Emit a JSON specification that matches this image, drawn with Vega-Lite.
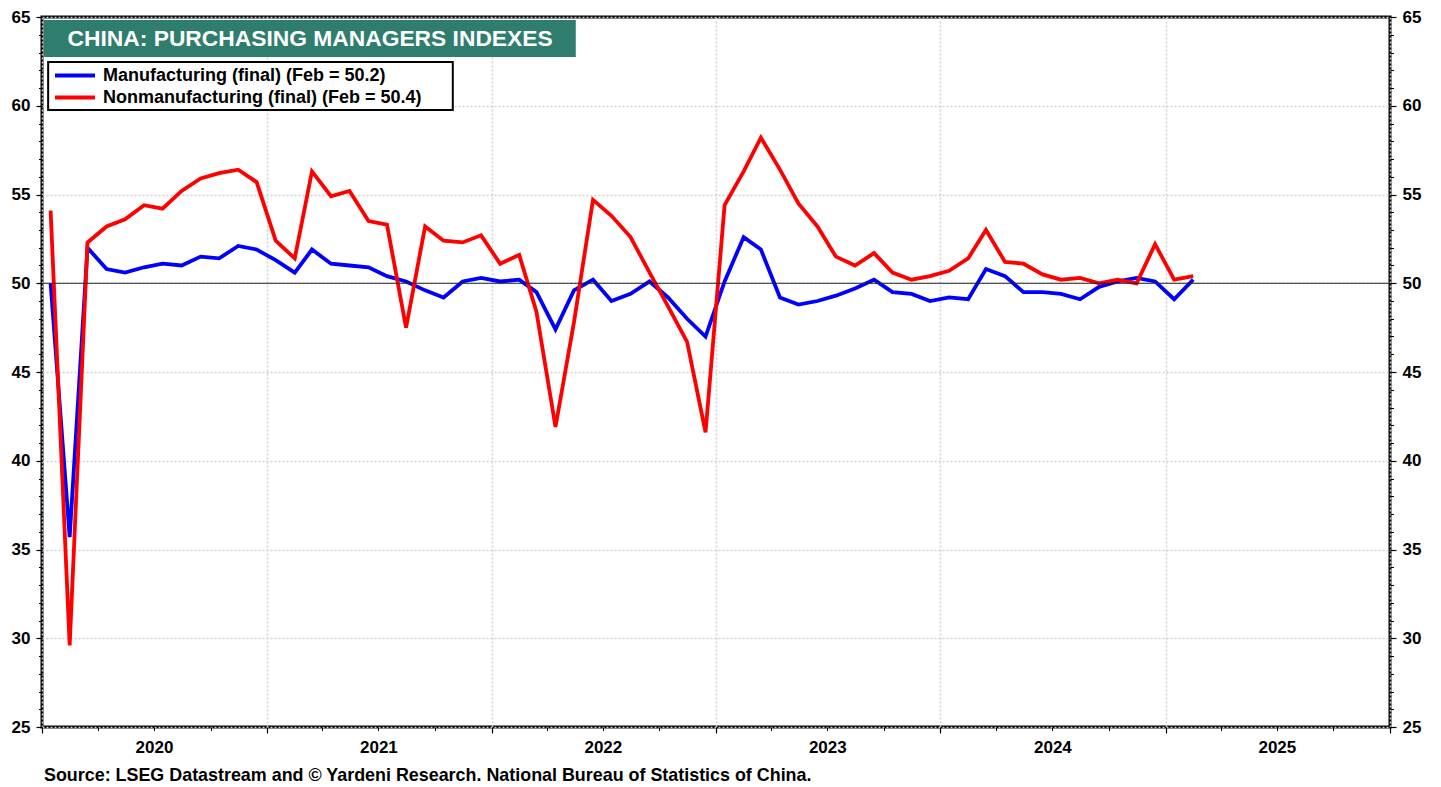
{
  "$schema": "https://vega.github.io/schema/vega-lite/v6.json",
  "width": 1348,
  "height": 710,
  "autosize": {"type": "none"},
  "padding": {"left": 42, "top": 17, "right": 51, "bottom": 60},
  "background": "white",
  "title": {
    "text": "Source: LSEG Datastream and © Yardeni Research. National Bureau of Statistics of China.",
    "orient": "bottom",
    "anchor": "start",
    "frame": "group",
    "offset": 12,
    "dx": 2,
    "font": "Liberation Sans",
    "fontWeight": "bold",
    "fontSize": 17.9,
    "color": "black"
  },
  "datasets": {
    "pmi": [
      {"date": "2020-01-15", "Manufacturing": 50.0, "Nonmanufacturing": 54.1},
      {"date": "2020-02-15", "Manufacturing": 35.7, "Nonmanufacturing": 29.6},
      {"date": "2020-03-15", "Manufacturing": 52.0, "Nonmanufacturing": 52.3},
      {"date": "2020-04-15", "Manufacturing": 50.8, "Nonmanufacturing": 53.2},
      {"date": "2020-05-15", "Manufacturing": 50.6, "Nonmanufacturing": 53.6},
      {"date": "2020-06-15", "Manufacturing": 50.9, "Nonmanufacturing": 54.4},
      {"date": "2020-07-15", "Manufacturing": 51.1, "Nonmanufacturing": 54.2},
      {"date": "2020-08-15", "Manufacturing": 51.0, "Nonmanufacturing": 55.2},
      {"date": "2020-09-15", "Manufacturing": 51.5, "Nonmanufacturing": 55.9},
      {"date": "2020-10-15", "Manufacturing": 51.4, "Nonmanufacturing": 56.2},
      {"date": "2020-11-15", "Manufacturing": 52.1, "Nonmanufacturing": 56.4},
      {"date": "2020-12-15", "Manufacturing": 51.9, "Nonmanufacturing": 55.7},
      {"date": "2021-01-15", "Manufacturing": 51.3, "Nonmanufacturing": 52.4},
      {"date": "2021-02-15", "Manufacturing": 50.6, "Nonmanufacturing": 51.4},
      {"date": "2021-03-15", "Manufacturing": 51.9, "Nonmanufacturing": 56.3},
      {"date": "2021-04-15", "Manufacturing": 51.1, "Nonmanufacturing": 54.9},
      {"date": "2021-05-15", "Manufacturing": 51.0, "Nonmanufacturing": 55.2},
      {"date": "2021-06-15", "Manufacturing": 50.9, "Nonmanufacturing": 53.5},
      {"date": "2021-07-15", "Manufacturing": 50.4, "Nonmanufacturing": 53.3},
      {"date": "2021-08-15", "Manufacturing": 50.1, "Nonmanufacturing": 47.5},
      {"date": "2021-09-15", "Manufacturing": 49.6, "Nonmanufacturing": 53.2},
      {"date": "2021-10-15", "Manufacturing": 49.2, "Nonmanufacturing": 52.4},
      {"date": "2021-11-15", "Manufacturing": 50.1, "Nonmanufacturing": 52.3},
      {"date": "2021-12-15", "Manufacturing": 50.3, "Nonmanufacturing": 52.7},
      {"date": "2022-01-15", "Manufacturing": 50.1, "Nonmanufacturing": 51.1},
      {"date": "2022-02-15", "Manufacturing": 50.2, "Nonmanufacturing": 51.6},
      {"date": "2022-03-15", "Manufacturing": 49.5, "Nonmanufacturing": 48.4},
      {"date": "2022-04-15", "Manufacturing": 47.4, "Nonmanufacturing": 41.9},
      {"date": "2022-05-15", "Manufacturing": 49.6, "Nonmanufacturing": 47.8},
      {"date": "2022-06-15", "Manufacturing": 50.2, "Nonmanufacturing": 54.7},
      {"date": "2022-07-15", "Manufacturing": 49.0, "Nonmanufacturing": 53.8},
      {"date": "2022-08-15", "Manufacturing": 49.4, "Nonmanufacturing": 52.6},
      {"date": "2022-09-15", "Manufacturing": 50.1, "Nonmanufacturing": 50.6},
      {"date": "2022-10-15", "Manufacturing": 49.2, "Nonmanufacturing": 48.7},
      {"date": "2022-11-15", "Manufacturing": 48.0, "Nonmanufacturing": 46.7},
      {"date": "2022-12-15", "Manufacturing": 47.0, "Nonmanufacturing": 41.6},
      {"date": "2023-01-15", "Manufacturing": 50.1, "Nonmanufacturing": 54.4},
      {"date": "2023-02-15", "Manufacturing": 52.6, "Nonmanufacturing": 56.3},
      {"date": "2023-03-15", "Manufacturing": 51.9, "Nonmanufacturing": 58.2},
      {"date": "2023-04-15", "Manufacturing": 49.2, "Nonmanufacturing": 56.4},
      {"date": "2023-05-15", "Manufacturing": 48.8, "Nonmanufacturing": 54.5},
      {"date": "2023-06-15", "Manufacturing": 49.0, "Nonmanufacturing": 53.2},
      {"date": "2023-07-15", "Manufacturing": 49.3, "Nonmanufacturing": 51.5},
      {"date": "2023-08-15", "Manufacturing": 49.7, "Nonmanufacturing": 51.0},
      {"date": "2023-09-15", "Manufacturing": 50.2, "Nonmanufacturing": 51.7},
      {"date": "2023-10-15", "Manufacturing": 49.5, "Nonmanufacturing": 50.6},
      {"date": "2023-11-15", "Manufacturing": 49.4, "Nonmanufacturing": 50.2},
      {"date": "2023-12-15", "Manufacturing": 49.0, "Nonmanufacturing": 50.4},
      {"date": "2024-01-15", "Manufacturing": 49.2, "Nonmanufacturing": 50.7},
      {"date": "2024-02-15", "Manufacturing": 49.1, "Nonmanufacturing": 51.4},
      {"date": "2024-03-15", "Manufacturing": 50.8, "Nonmanufacturing": 53.0},
      {"date": "2024-04-15", "Manufacturing": 50.4, "Nonmanufacturing": 51.2},
      {"date": "2024-05-15", "Manufacturing": 49.5, "Nonmanufacturing": 51.1},
      {"date": "2024-06-15", "Manufacturing": 49.5, "Nonmanufacturing": 50.5},
      {"date": "2024-07-15", "Manufacturing": 49.4, "Nonmanufacturing": 50.2},
      {"date": "2024-08-15", "Manufacturing": 49.1, "Nonmanufacturing": 50.3},
      {"date": "2024-09-15", "Manufacturing": 49.8, "Nonmanufacturing": 50.0},
      {"date": "2024-10-15", "Manufacturing": 50.1, "Nonmanufacturing": 50.2},
      {"date": "2024-11-15", "Manufacturing": 50.3, "Nonmanufacturing": 50.0},
      {"date": "2024-12-15", "Manufacturing": 50.1, "Nonmanufacturing": 52.2},
      {"date": "2025-01-15", "Manufacturing": 49.1, "Nonmanufacturing": 50.2},
      {"date": "2025-02-15", "Manufacturing": 50.2, "Nonmanufacturing": 50.4}
    ]
  },
  "resolve": {
    "scale": {"x": "shared", "y": "shared"},
    "axis": {"x": "independent", "y": "independent"}
  },
  "layer": [
    {
      "data": {"values": [{}]},
      "mark": {"type": "point", "opacity": 0},
      "encoding": {
        "x": {
          "datum": {"year": 2020, "month": 6, "date": 1},
          "type": "temporal",
          "scale": {"domain": [{"year": 2020, "month": 1, "date": 1}, {"year": 2026, "month": 1, "date": 1}]},
          "axis": {
            "orient": "bottom",
            "values": [
              {"year": 2020, "month": 1, "date": 1}, {"year": 2021, "month": 1, "date": 1},
              {"year": 2022, "month": 1, "date": 1}, {"year": 2023, "month": 1, "date": 1},
              {"year": 2024, "month": 1, "date": 1}, {"year": 2025, "month": 1, "date": 1},
              {"year": 2026, "month": 1, "date": 1}
            ],
            "labels": false,
            "tickSize": 6,
            "tickWidth": 1.2,
            "grid": true
          }
        },
        "y": {
          "datum": 50,
          "type": "quantitative",
          "scale": {"domain": [25, 65], "nice": false, "zero": false},
          "axis": {
            "orient": "left",
            "values": [25,26,27,28,29,30,31,32,33,34,35,36,37,38,39,40,41,42,43,44,45,46,47,48,49,50,51,52,53,54,55,56,57,58,59,60,61,62,63,64,65],
            "labels": false,
            "tickSize": 3.5,
            "grid": false
          }
        }
      }
    },
    {
      "data": {"values": [{}]},
      "mark": {"type": "point", "opacity": 0},
      "encoding": {
        "x": {
          "datum": {"year": 2020, "month": 6, "date": 1},
          "type": "temporal",
          "scale": {"domain": [{"year": 2020, "month": 1, "date": 1}, {"year": 2026, "month": 1, "date": 1}]},
          "axis": {
            "orient": "bottom",
            "values": [
              {"year": 2020, "month": 4, "date": 1}, {"year": 2020, "month": 7, "date": 1}, {"year": 2020, "month": 10, "date": 1},
              {"year": 2021, "month": 4, "date": 1}, {"year": 2021, "month": 7, "date": 1}, {"year": 2021, "month": 10, "date": 1},
              {"year": 2022, "month": 4, "date": 1}, {"year": 2022, "month": 7, "date": 1}, {"year": 2022, "month": 10, "date": 1},
              {"year": 2023, "month": 4, "date": 1}, {"year": 2023, "month": 7, "date": 1}, {"year": 2023, "month": 10, "date": 1},
              {"year": 2024, "month": 4, "date": 1}, {"year": 2024, "month": 7, "date": 1}, {"year": 2024, "month": 10, "date": 1},
              {"year": 2025, "month": 4, "date": 1}, {"year": 2025, "month": 7, "date": 1}, {"year": 2025, "month": 10, "date": 1}
            ],
            "labels": false,
            "tickSize": 3.5,
            "grid": false
          }
        },
        "y": {
          "datum": 50,
          "type": "quantitative",
          "scale": {"domain": [25, 65], "nice": false, "zero": false},
          "axis": {
            "orient": "right",
            "values": [25,26,27,28,29,30,31,32,33,34,35,36,37,38,39,40,41,42,43,44,45,46,47,48,49,50,51,52,53,54,55,56,57,58,59,60,61,62,63,64,65],
            "labels": false,
            "tickSize": 3.5,
            "grid": false
          }
        }
      }
    },
    {
      "data": {"values": [{}]},
      "mark": {"type": "rect", "fill": "white", "stroke": "black", "strokeWidth": 2},
      "encoding": {
        "x": {"datum": {"year": 2020, "month": 1, "date": 11}, "type": "temporal", "axis": null},
        "x2": {"datum": {"year": 2021, "month": 10, "date": 30}},
        "y": {"datum": 62.465, "type": "quantitative", "axis": null},
        "y2": {"datum": 59.76}
      }
    },
    {
      "data": {"name": "pmi"},
      "transform": [{"fold": ["Manufacturing", "Nonmanufacturing"], "as": ["series", "value"]}],
      "mark": {"type": "line", "strokeWidth": 3.8, "strokeJoin": "miter", "strokeCap": "butt"},
      "encoding": {
        "x": {
          "field": "date",
          "type": "temporal",
          "scale": {"domain": [{"year": 2020, "month": 1, "date": 1}, {"year": 2026, "month": 1, "date": 1}]},
          "axis": {
            "orient": "bottom",
            "values": [
              {"year": 2020, "month": 7, "date": 1}, {"year": 2021, "month": 7, "date": 1},
              {"year": 2022, "month": 7, "date": 1}, {"year": 2023, "month": 7, "date": 1},
              {"year": 2024, "month": 7, "date": 1}, {"year": 2025, "month": 7, "date": 1}
            ],
            "format": "%Y",
            "ticks": false,
            "tickSize": 0,
            "labelPadding": 12,
            "grid": false
          }
        },
        "y": {
          "field": "value",
          "type": "quantitative",
          "scale": {"domain": [25, 65], "nice": false, "zero": false},
          "axis": {
            "orient": "left",
            "values": [25, 30, 35, 40, 45, 50, 55, 60, 65],
            "tickSize": 6,
            "tickWidth": 1.2,
            "labelPadding": 6,
            "grid": true
          }
        },
        "color": {
          "field": "series",
          "type": "nominal",
          "scale": {"domain": ["Manufacturing", "Nonmanufacturing"], "range": ["#0000ff", "#ff0000"]},
          "legend": {
            "orient": "none",
            "legendX": 6,
            "legendY": 45,
            "title": null,
            "labelExpr": "datum.label == 'Manufacturing' ? 'Manufacturing (final) (Feb = 50.2)' : 'Nonmanufacturing (final) (Feb = 50.4)'"
          }
        }
      }
    },
    {
      "data": {"values": [{}]},
      "mark": {"type": "rule", "color": "#222222", "strokeWidth": 1.2},
      "encoding": {
        "y": {
          "datum": 50,
          "type": "quantitative",
          "scale": {"domain": [25, 65], "nice": false, "zero": false},
          "axis": {
            "orient": "right",
            "values": [25, 30, 35, 40, 45, 50, 55, 60, 65],
            "tickSize": 6,
            "tickWidth": 1.2,
            "labelPadding": 6,
            "grid": false
          }
        }
      }
    },
    {
      "data": {"values": [{}]},
      "mark": {"type": "rect", "color": "#2f7d6d"},
      "encoding": {
        "x": {"datum": {"year": 2020, "month": 1, "date": 4}, "type": "temporal", "axis": null},
        "x2": {"datum": {"year": 2022, "month": 5, "date": 18}},
        "y": {"datum": 64.83, "type": "quantitative", "axis": null},
        "y2": {"datum": 62.75}
      }
    },
    {
      "data": {"values": [{}]},
      "mark": {"type": "text", "color": "white", "font": "Liberation Sans", "fontWeight": "bold", "fontSize": 22.8, "align": "center", "baseline": "middle"},
      "encoding": {
        "x": {"datum": {"year": 2021, "month": 3, "date": 12}, "type": "temporal", "axis": null},
        "y": {"datum": 63.76, "type": "quantitative", "axis": null},
        "text": {"value": "CHINA: PURCHASING MANAGERS INDEXES"}
      }
    }
  ],
  "config": {
    "view": {"stroke": "black", "strokeWidth": 3},
    "axis": {
      "labelFont": "Liberation Sans",
      "labelFontWeight": "bold",
      "labelFontSize": 17,
      "labelColor": "black",
      "tickColor": "black",
      "domain": false,
      "gridColor": "#d0d0d0",
      "gridDash": [2, 2],
      "gridWidth": 1.5,
      "title": null
    },
    "legend": {
      "padding": 5,
      "strokeColor": null,
      "fillColor": null,
      "labelFont": "Liberation Sans",
      "labelFontWeight": "bold",
      "labelFontSize": 18,
      "labelColor": "black",
      "labelLimit": 600,
      "symbolType": "stroke",
      "symbolSize": 1600,
      "symbolStrokeWidth": 4,
      "clipHeight": 17,
      "rowPadding": 3,
      "labelOffset": 6
    }
  }
}
